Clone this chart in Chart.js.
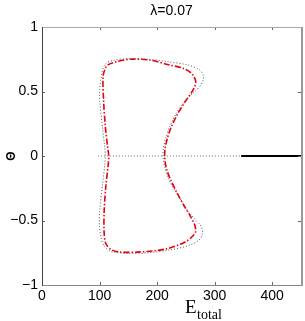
<!DOCTYPE html>
<html>
<head>
<meta charset="utf-8">
<title>lambda 0.07</title>
<script src="https://cdn.jsdelivr.net/npm/chart.js@4.4.1/dist/chart.umd.min.js"></script>
<style>
  html, body { margin: 0; padding: 0; background: #fff; }
  canvas { display: block; }
</style>
</head>
<body>
<canvas id="chart" width="305" height="321"></canvas>
<script>
// red dash-dot loop
const redX = [213, 214, 218, 225, 235, 247, 258, 265, 267, 260, 245, 222, 187, 152, 129, 114, 109, 106, 107, 110, 114, 116,
  115, 111, 108, 108, 111, 120, 135, 165, 195, 216, 240, 251, 262, 267, 265, 257, 246, 234, 224, 217, 214, 213];
const redY = [0, 0.06, 0.14, 0.23, 0.32, 0.41, 0.48, 0.535, 0.58, 0.64, 0.68, 0.705, 0.744, 0.75, 0.73, 0.705, 0.667, 0.615, 0.43, 0.23, 0.07, 0,
  -0.07, -0.23, -0.43, -0.60, -0.68, -0.725, -0.745, -0.745, -0.735, -0.72, -0.685, -0.66, -0.62, -0.585, -0.53, -0.46, -0.38, -0.28, -0.19, -0.11, -0.05, 0];

// gray dotted loop
const grayX = [210, 211, 215, 222, 232, 245, 258, 268, 276, 280, 280, 274, 254, 220, 185, 150, 123, 112, 106, 103, 100, 100, 105, 109, 110,
  109, 105, 100, 100, 103, 108, 120, 150, 185, 220, 254, 272, 279, 277, 268, 256, 244, 231, 220, 213, 210];
const grayY = [0, 0.06, 0.14, 0.23, 0.32, 0.41, 0.47, 0.51, 0.55, 0.59, 0.628, 0.667, 0.705, 0.73, 0.75, 0.755, 0.74, 0.72, 0.68, 0.615, 0.50, 0.434, 0.227, 0.07, 0,
  -0.07, -0.227, -0.434, -0.55, -0.64, -0.70, -0.74, -0.755, -0.75, -0.73, -0.695, -0.655, -0.60, -0.55, -0.50, -0.44, -0.36, -0.27, -0.18, -0.08, 0];

// horizontal branches at theta = 0
const dottedZeroX = [97, 346];
const solidZeroX = [346, 450];

const xTicks = [0, 100, 200, 300, 400];
const yTicks = [-1, -0.5, 0, 0.5, 1];

const pts = (xs, ys) => xs.map((x, i) => ({ x: x, y: ys[i] }));
const zero = xs => xs.map(x => ({ x: x, y: 0 }));

const framePlugin = {
  id: "frame",
  afterDatasetsDraw(chart) {
    const ctx = chart.ctx;
    const a = chart.chartArea;
    const xs = chart.scales.x, ys = chart.scales.y;
    ctx.save();
    // ticks pointing inward
    ctx.strokeStyle = "#666";
    ctx.lineWidth = 1;
    ctx.beginPath();
    xTicks.forEach(v => {
      const px = Math.round(xs.getPixelForValue(v)) + 0.5;
      ctx.moveTo(px, a.bottom); ctx.lineTo(px, a.bottom - 3);
      ctx.moveTo(px, a.top); ctx.lineTo(px, a.top + 3);
    });
    yTicks.forEach(v => {
      const py = Math.round(ys.getPixelForValue(v)) + 0.5;
      ctx.moveTo(a.left, py); ctx.lineTo(a.left + 3, py);
      ctx.moveTo(a.right, py); ctx.lineTo(a.right - 3, py);
    });
    ctx.stroke();
    // box
    ctx.strokeStyle = "#aaa";
    ctx.beginPath(); ctx.moveTo(a.left, a.top + 0.5); ctx.lineTo(a.right, a.top + 0.5); ctx.stroke();
    ctx.strokeStyle = "#888";
    ctx.beginPath(); ctx.moveTo(a.left, a.bottom + 0.5); ctx.lineTo(a.right, a.bottom + 0.5); ctx.stroke();
    ctx.strokeStyle = "#999";
    ctx.lineWidth = 2;
    ctx.beginPath(); ctx.moveTo(a.right + 1, a.top); ctx.lineTo(a.right + 1, a.bottom + 1); ctx.stroke();
    ctx.strokeStyle = "#444";
    ctx.lineWidth = 1;
    ctx.beginPath(); ctx.moveTo(a.left + 0.5, a.top); ctx.lineTo(a.left + 0.5, a.bottom + 1); ctx.stroke();

    // title
    ctx.fillStyle = "#000";
    ctx.textAlign = "center";
    ctx.textBaseline = "middle";
    ctx.font = "14px 'Liberation Sans', Arial, sans-serif";
    ctx.fillText("λ=0.07", (a.left + a.right) / 2, 11);

    // x label with subscript
    ctx.textAlign = "left";
    ctx.textBaseline = "alphabetic";
    ctx.font = "19px 'Liberation Serif', 'Times New Roman', serif";
    ctx.fillText("E", 185, 313);
    ctx.font = "14px 'Liberation Serif', 'Times New Roman', serif";
    ctx.fillText("total", 197, 319);

    // y label
    ctx.translate(12, 156);
    ctx.rotate(-Math.PI / 2);
    ctx.textAlign = "center";
    ctx.textBaseline = "middle";
    ctx.font = "bold 12px 'Liberation Sans', Arial, sans-serif";
    ctx.fillText("Θ", 0, 0);
    ctx.restore();
  }
};

new Chart(document.getElementById("chart"), {
  type: "scatter",
  data: {
    datasets: [
      { data: zero(dottedZeroX), showLine: true, borderColor: "#666", borderWidth: 1, borderDash: [1, 2], pointRadius: 0 },
      { data: zero(solidZeroX), showLine: true, borderColor: "#000", borderWidth: 2, pointRadius: 0 },
      { data: pts(grayX, grayY), showLine: true, borderColor: "#555", borderWidth: 1, borderDash: [1, 2], pointRadius: 0, tension: 0.3 },
      { data: pts(redX, redY), showLine: true, borderColor: "#e8000b", borderWidth: 1.6, borderDash: [6, 2, 1.5, 2], pointRadius: 0, tension: 0.3 }
    ]
  },
  options: {
    responsive: false,
    animation: false,
    layout: { padding: { left: 0, right: 4, top: 27, bottom: 0 } },
    plugins: { legend: { display: false }, tooltip: { enabled: false } },
    scales: {
      x: {
        type: "linear", min: 0, max: 450,
        afterBuildTicks: s => { s.ticks = xTicks.map(v => ({ value: v })); },
        afterFit: s => { s.height = 36; },
        grid: { display: false, drawTicks: false },
        border: { display: false },
        ticks: { color: "#000", padding: 3, maxRotation: 0, font: { family: "'Liberation Sans', Arial, sans-serif", size: 14 } }
      },
      y: {
        type: "linear", min: -1, max: 1,
        afterBuildTicks: s => { s.ticks = yTicks.map(v => ({ value: v })); },
        afterFit: s => { s.width = 42; },
        grid: { display: false, drawTicks: false },
        border: { display: false },
        ticks: {
          color: "#000", padding: 4,
          font: { family: "'Liberation Sans', Arial, sans-serif", size: 14 },
          callback: v => String(v).replace("-", "\u2212")
        }
      }
    }
  },
  plugins: [framePlugin]
});
</script>
</body>
</html>
